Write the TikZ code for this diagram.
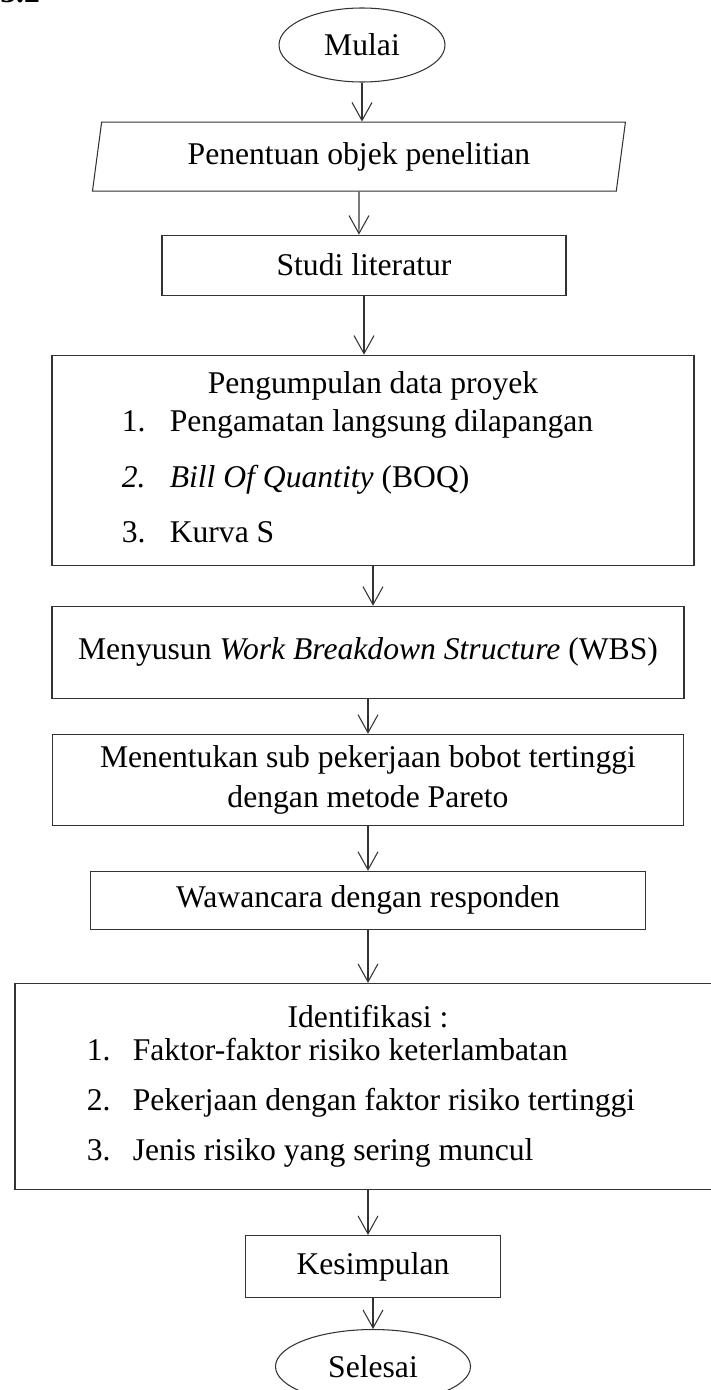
\documentclass[tikz,border=0pt]{standalone}
\usepackage{fontspec}
\setmainfont{Liberation Serif}
\usetikzlibrary{shapes.geometric, arrows.meta, positioning}
\tikzset{
  startstop/.style = {ellipse, draw=black!80, line width=0.6pt, inner sep=0pt, align=center},
  io/.style        = {trapezium, trapezium left angle=78, trapezium right angle=102,
                      trapezium stretches=true, draw=black!80, line width=0.6pt,
                      inner sep=0pt, align=center},
  process/.style   = {rectangle, draw=black!80, line width=0.6pt, inner sep=0pt, align=center},
  arrow/.style     = {line width=0.6pt, draw=black!80, -{Straight Barb[length=3.6mm, width=4mm]}}
}

\begin{document}
\begin{tikzpicture}[font=\fontsize{18}{21.6}\selectfont]
  \useasboundingbox (0,0) rectangle (14.2,-27.8);
  % Figure number, cut by the top edge
  \node (fignum) [anchor=base west, inner sep=0pt] at (0,-0.05) {\textbf{3.2}};

  % Start and preparation
  \node (mulai) [startstop, minimum width=3.32cm, minimum height=1.48cm] at (7.24,-0.9) {Mulai};
  \node (objek) [io, minimum width=10.68cm, minimum height=1.38cm,
                 below=0.78cm of mulai, xshift=-0.06cm] {Penentuan objek penelitian};
  \node (studi) [process, minimum width=8.08cm, minimum height=1.2cm,
                 below=0.86cm of objek, xshift=0.1cm] {Studi literatur};

  % Data collection
  \node (data)  [process, minimum width=12.84cm, minimum height=4.2cm,
                 below=1.18cm of studi, xshift=0.18cm] {%
    \begin{tabular}{@{}p{0.96cm}@{}l@{\hspace{0.62cm}}}
      \multicolumn{2}{@{}c@{}}{Pengumpulan data proyek}\\
      1. & Pengamatan langsung dilapangan\\[0.36cm]
      \textit{2.} & \textit{Bill Of Quantity} (BOQ)\\[0.34cm]
      3. & Kurva S
    \end{tabular}};

  % Processing steps
  \node (wbs)   [process, minimum width=12.64cm, minimum height=1.84cm,
                 below=0.8cm of data, xshift=-0.1cm]
                {Menyusun \textit{Work Breakdown Structure} (WBS)};
  \node (pareto)[process, minimum width=12.62cm, minimum height=1.82cm,
                 below=0.7cm of wbs]
                {Menentukan sub pekerjaan bobot tertinggi\\[0.04cm]dengan metode Pareto};
  \node (wawan) [process, minimum width=11.1cm, minimum height=1.16cm,
                 below=0.9cm of pareto] {Wawancara dengan responden};

  % Identification
  \node (ident) [process, minimum width=14.12cm, minimum height=4.12cm,
                 below=1.06cm of wawan] {%
    \begin{tabular}{@{}p{0.92cm}@{}l@{\hspace{0.28cm}}}
      \multicolumn{2}{@{}c@{}}{Identifikasi :}\\[-0.1cm]
      1. & Faktor-faktor risiko keterlambatan\\[0.24cm]
      2. & Pekerjaan dengan faktor risiko tertinggi\\[0.24cm]
      3. & Jenis risiko yang sering muncul
    \end{tabular}};

  % Conclusion and end
  \node (simpul)[process, minimum width=5.1cm, minimum height=1.24cm,
                 below=0.9cm of ident, xshift=0.1cm] {Kesimpulan};
  \node (selesai)[startstop, minimum width=3.9cm, minimum height=1.48cm,
                 below=0.62cm of simpul] {Selesai};

  % Arrows
  \draw[arrow] (mulai)  -- (mulai |- objek.north);
  \draw[arrow] (objek)  -- (objek |- studi.north);
  \draw[arrow] (studi)  -- (studi |- data.north);
  \draw[arrow] (data)   -- (data |- wbs.north);
  \draw[arrow] (wbs)    -- (wbs |- pareto.north);
  \draw[arrow] (pareto) -- (pareto |- wawan.north);
  \draw[arrow] (wawan)  -- (wawan |- ident.north);
  \draw[arrow] (ident)  -- (ident |- simpul.north);
  \draw[arrow] (simpul) -- (simpul |- selesai.north);
\end{tikzpicture}
\end{document}
